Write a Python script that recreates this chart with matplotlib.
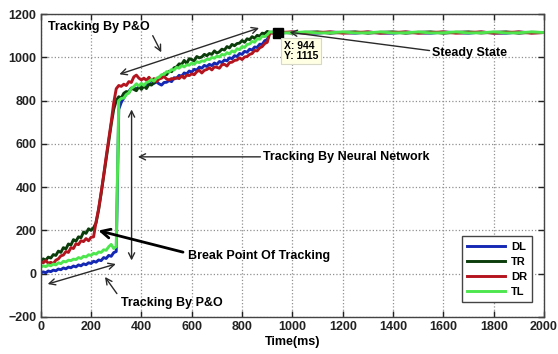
import matplotlib
matplotlib.use("Agg")
import matplotlib.pyplot as plt

plt.rcParams['font.family'] = ['Liberation Sans', 'DejaVu Sans']
plt.rcParams['font.weight'] = 'bold'

# time axis (ms)
time_track = list(range(0, 901, 10))
time_steady = [910, 950, 1000, 1050, 1100, 1150, 1200, 1250, 1300, 1350, 1400, 1450,
               1500, 1550, 1600, 1650, 1700, 1750, 1800, 1850, 1900, 1950, 2000]
time_ms = time_track + time_steady

dl_track = [3, 8, 4, 12, 9, 16, 13, 21, 18, 26, 22, 30, 27, 35, 31, 40, 36, 45, 41, 50,
            47, 57, 53, 63, 60, 74, 70, 84, 80, 97, 102,
            760, 792, 812, 832, 843, 857, 860, 852, 866, 872, 864, 878, 885, 876, 880, 887,
            878, 872, 884, 885, 893, 888, 906, 904, 917, 913, 928, 924, 937, 932, 945, 941,
            955, 950, 963, 958, 968, 962, 974, 968, 981, 976, 988, 984, 998, 994, 1008,
            1004, 1018, 1014, 1028, 1024, 1038, 1034, 1048, 1046, 1061, 1060, 1077, 1082]
tr_track = [60, 68, 62, 76, 72, 88, 84, 104, 98, 120, 114, 137, 132, 157, 150, 170, 166,
            192, 186, 207, 200, 212, 235, 295, 370, 450, 530, 610, 690, 760, 800,
            818, 812, 834, 842, 836, 858, 852, 846, 866, 852, 868, 856, 876, 872, 884, 890,
            908, 912, 924, 920, 936, 934, 952, 956, 970, 968, 986, 972, 994, 990, 984, 1004,
            998, 1002, 1014, 1008, 1018, 1014, 1030, 1020, 1026, 1038, 1034, 1050, 1044,
            1060, 1054, 1064, 1066, 1078, 1070, 1086, 1082, 1096, 1088, 1102, 1098, 1112,
            1110, 1120]
dr_track = [55, 50, 60, 48, 52, 46, 62, 68, 82, 86, 102, 98, 120, 116, 138, 134, 152,
            148, 162, 152, 168, 170, 240, 300, 375, 455, 540, 620, 700, 790, 855,
            870, 866, 876, 870, 888, 884, 910, 918, 904, 896, 904, 894, 908, 892, 902, 888,
            900, 904, 912, 900, 896, 902, 900, 906, 902, 914, 904, 918, 916, 924, 920, 934,
            940, 928, 940, 944, 952, 942, 956, 954, 950, 966, 968, 960, 976, 978, 986, 988,
            998, 990, 1002, 1004, 1014, 1018, 1032, 1030, 1044, 1050, 1064, 1070]
tl_track = [30, 36, 32, 40, 36, 44, 40, 50, 46, 57, 54, 62, 60, 67, 65, 74, 70, 80, 77,
            87, 84, 94, 90, 100, 98, 110, 108, 124, 135, 116, 125,
            800, 810, 812, 828, 836, 857, 865, 878, 868, 880, 870, 884, 888, 898, 890, 904,
            908, 920, 922, 934, 932, 944, 942, 954, 950, 962, 956, 966, 964, 974, 968, 980,
            976, 984, 982, 992, 990, 1000, 996, 1006, 1002, 1014, 1010, 1022, 1016, 1030,
            1024, 1040, 1036, 1050, 1046, 1060, 1062, 1074, 1070, 1086, 1084, 1098, 1096, 1105]

dl_steady = [1114, 1112, 1117, 1113, 1112, 1117, 1115, 1112, 1117, 1113, 1112, 1117,
             1114, 1112, 1117, 1115, 1112, 1117, 1113, 1112, 1117, 1114, 1115]
tr_steady = [1116, 1118, 1112, 1116, 1118, 1112, 1116, 1118, 1112, 1116, 1118, 1112,
             1116, 1118, 1112, 1116, 1118, 1113, 1116, 1118, 1112, 1116, 1115]
dr_steady = [1112, 1115, 1118, 1112, 1115, 1118, 1112, 1115, 1118, 1112, 1115, 1118,
             1112, 1115, 1118, 1112, 1115, 1118, 1112, 1115, 1118, 1112, 1115]
tl_steady = [1118, 1113, 1114, 1118, 1113, 1114, 1118, 1113, 1114, 1118, 1113, 1114,
             1118, 1113, 1114, 1118, 1113, 1114, 1118, 1113, 1114, 1118, 1115]

series_names = ['DL', 'TR', 'DR', 'TL']
series_values = [dl_track + dl_steady, tr_track + tr_steady,
                 dr_track + dr_steady, tl_track + tl_steady]
series_colors = ['#1428b4', '#0b3d0b', '#b4141e', '#4ee64e']

tip_x, tip_y = 944, 1115

x_ticks = list(range(0, 2001, 200))
y_ticks = list(range(-200, 1201, 200))

fig = plt.figure(figsize=(5.58, 3.54), dpi=100)
ax = fig.add_axes([0.073, 0.105, 0.902, 0.855])

for name, vals, col in zip(series_names, series_values, series_colors):
    ax.plot(time_ms, vals, color=col, lw=2.1, label=name)

ax.plot([tip_x], [tip_y], marker='s', color='black', markersize=6.5, zorder=6)
ax.text(967, 1029, 'X: %d\nY: %d' % (tip_x, tip_y), fontsize=7.5, fontweight='bold',
        ha='left', va='center', linespacing=1.05, zorder=7,
        bbox=dict(boxstyle='square,pad=0.25', facecolor='#ffffe4', edgecolor='#d8d8c8', lw=0.8))

ax.set_xlim(0, 2000)
ax.set_ylim(-200, 1200)
ax.set_xticks(x_ticks)
ax.set_yticks(y_ticks)
ax.tick_params(direction='in', top=True, right=True, length=4, width=1,
               labelsize=9, colors='#222222', pad=3)
for lab in ax.get_xticklabels() + ax.get_yticklabels():
    lab.set_fontweight('bold')
ax.grid(True, linestyle=':', color='#909090', lw=0.9)
for sp in ax.spines.values():
    sp.set_color('#444444')
    sp.set_linewidth(1.0)
ax.set_xlabel('Time(ms)', fontsize=9, fontweight='bold', labelpad=2)

thin = dict(arrowstyle='->', color='#2a2a2a', lw=1.0, mutation_scale=11)
thin2 = dict(arrowstyle='<->', color='#2a2a2a', lw=1.0, mutation_scale=11)

# Top P&O
ax.text(230, 1140, 'Tracking By P&O', fontsize=9, fontweight='bold', ha='center', va='center')
ax.annotate('', xy=(484, 1012), xytext=(440, 1112), arrowprops=thin)
ax.annotate('', xy=(302, 918), xytext=(878, 1140), arrowprops=thin2)

# Steady state
ax.text(1556, 1022, 'Steady State', fontsize=9, fontweight='bold', ha='left', va='center')
ax.annotate('', xy=(978, 1118), xytext=(1556, 1030), arrowprops=thin)

# Neural network
ax.text(884, 540, 'Tracking By Neural Network', fontsize=9, fontweight='bold', ha='left', va='center')
ax.annotate('', xy=(375, 540), xytext=(884, 540), arrowprops=thin)
ax.annotate('', xy=(361, 772), xytext=(361, 48), arrowprops=thin2)

# Break point
ax.text(584, 82, 'Break Point Of Tracking', fontsize=9, fontweight='bold', ha='left', va='center')
ax.annotate('', xy=(218, 202), xytext=(576, 96),
            arrowprops=dict(arrowstyle='->', color='black', lw=2.0, mutation_scale=16))

# Bottom P&O
ax.text(520, -136, 'Tracking By P&O', fontsize=9, fontweight='bold', ha='center', va='center')
ax.annotate('', xy=(249, -5), xytext=(309, -103), arrowprops=thin)
ax.annotate('', xy=(17, -52), xytext=(309, 48), arrowprops=thin2)

leg = ax.legend(loc='lower right', bbox_to_anchor=(0.988, 0.030), fontsize=8,
                handlelength=3.4, labelspacing=0.45, borderpad=0.5, handletextpad=0.5,
                fancybox=False, framealpha=1, edgecolor='#444444')
leg.get_frame().set_linewidth(1.0)
for t in leg.get_texts():
    t.set_fontweight('bold')

fig.savefig('out.png', dpi=100)
